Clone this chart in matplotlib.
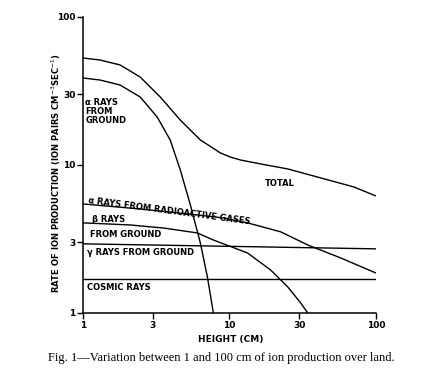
import numpy as np
import matplotlib.pyplot as plt
from matplotlib.ticker import FixedLocator, NullLocator

# ==== Data (height in cm, ion pairs cm^-3 sec^-1) ====
total_x = [1.0, 1.307, 1.792, 2.457, 3.37, 4.62, 6.33, 8.68, 10.16, 11.9, 16.3, 24.97, 42.0, 70.7, 100.0]
total_y = [52.8, 51.2, 47.4, 39.3, 28.8, 20.1, 14.75, 12.05, 11.3, 10.8, 10.16, 9.40, 8.17, 7.10, 6.17]

alpha_gnd_x = [1.0, 1.307, 1.792, 2.457, 3.21, 3.94, 4.62, 5.41, 6.33, 7.07, 7.77]
alpha_gnd_y = [38.7, 37.5, 34.7, 28.8, 21.1, 14.75, 9.25, 5.37, 2.97, 1.75, 1.0]

alpha_gas_x = [1.0, 2.457, 6.04, 9.10, 13.3, 22.4, 34.2, 57.6, 100.0]
alpha_gas_y = [5.45, 5.04, 4.59, 4.38, 4.06, 3.53, 2.88, 2.35, 1.86]

beta_x = [1.0, 2.10, 3.53, 6.04, 7.77, 13.3, 19.1, 24.97, 30.6, 34.2]
beta_y = [4.06, 3.93, 3.75, 3.47, 3.11, 2.54, 1.95, 1.50, 1.17, 1.0]

gamma_x = [1.0, 100.0]
gamma_y = [2.93, 2.71]

cosmic_x = [1.0, 100.0]
cosmic_y = [1.70, 1.70]

ticks = [1, 3, 10, 30, 100]
tick_labels = ["1", "3", "10", "30", "100"]

plt.rcParams['font.family'] = ['DejaVu Sans']

fig = plt.figure(figsize=(4.21, 3.69), dpi=100)
ax = fig.add_axes([0.197, 0.152, 0.696, 0.802])

for xs, ys in [(total_x, total_y), (alpha_gnd_x, alpha_gnd_y), (alpha_gas_x, alpha_gas_y),
               (beta_x, beta_y), (gamma_x, gamma_y), (cosmic_x, cosmic_y)]:
    ax.plot(xs, ys, color="black", lw=1.0, solid_joinstyle="round", solid_capstyle="butt")

ax.set_xscale("log")
ax.set_yscale("log")
ax.set_xlim(1, 100)
ax.set_ylim(1, 100)
ax.xaxis.set_major_locator(FixedLocator(ticks))
ax.yaxis.set_major_locator(FixedLocator(ticks))
ax.xaxis.set_minor_locator(NullLocator())
ax.yaxis.set_minor_locator(NullLocator())
ax.set_xticklabels(tick_labels, fontsize=6.5, fontweight="bold")
ax.set_yticklabels(tick_labels, fontsize=6.5, fontweight="bold")
ax.tick_params(direction="out", length=4, width=1, pad=1.5)

for s in ["top", "right"]:
    ax.spines[s].set_visible(False)
for s in ["left", "bottom"]:
    ax.spines[s].set_linewidth(1.1)

ax.set_xlabel("HEIGHT (CM)", fontsize=6.5, fontweight="bold")
ax.xaxis.set_label_coords(0.505, -0.075)
ax.set_ylabel("RATE OF ION PRODUCTION (ION PAIRS CM$^{-3}$SEC$^{-1}$)",
              fontsize=6.0, fontweight="bold")
ax.yaxis.set_label_coords(-0.068, 0.473)

# curve labels
lab = dict(fontsize=6, fontweight="bold", color="black")
ax.text(1.04, 28.4, "α RAYS\nFROM\nGROUND", va="top", ha="left", linespacing=1.0, **lab)
ax.text(17.4, 7.2, "TOTAL", va="baseline", **lab)
ax.text(1.09, 5.5, "α RAYS FROM RADIOACTIVE GASES", rotation=-7.5,
        rotation_mode="anchor", va="baseline", **lab)
ax.text(1.15, 4.12, "β RAYS", va="baseline", **lab)
ax.text(1.115, 3.26, "FROM GROUND", va="baseline", **lab)
ax.text(1.06, 2.47, "γ RAYS FROM GROUND", va="baseline", **lab)
ax.text(1.06, 1.43, "COSMIC RAYS", va="baseline", **lab)

fig.text(0.525, 0.030, "Fig. 1—Variation between 1 and 100 cm of ion production over land.",
         ha="center", va="center", fontsize=9.0, family="Liberation Serif")

fig.savefig("out.png", dpi=100)
